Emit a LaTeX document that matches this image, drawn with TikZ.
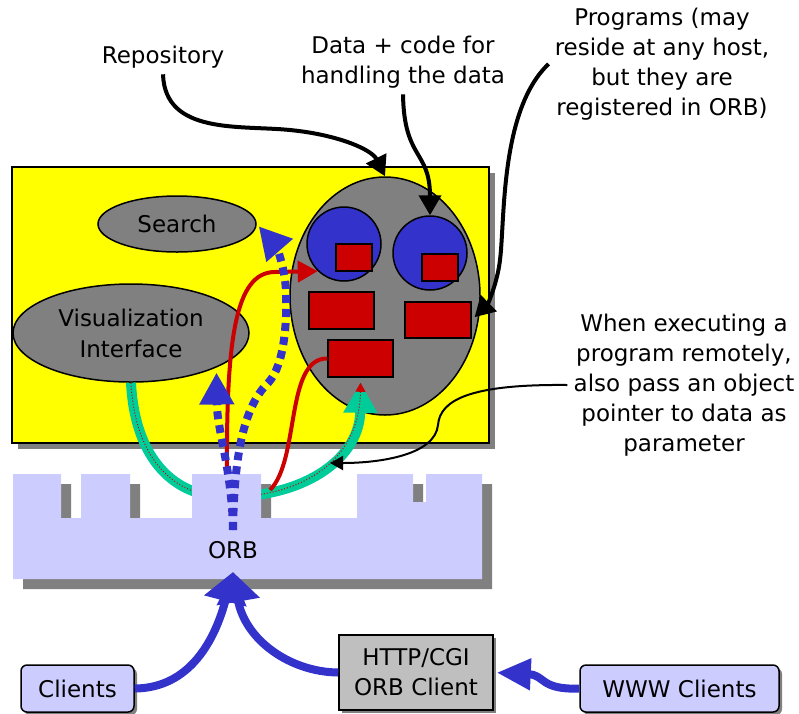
\documentclass[tikz,border=0pt]{standalone}
\usepackage{fontspec}
\setmainfont{DejaVu Sans}
\usetikzlibrary{positioning,shapes.geometric,arrows.meta,shadows}

\definecolor{hostyellow}{HTML}{FFFF00}
\definecolor{storegray}{HTML}{808080}
\definecolor{progblue}{HTML}{3333CC}
\definecolor{progred}{HTML}{CC0000}
\definecolor{orblav}{HTML}{CCCCFF}
\definecolor{callgreen}{HTML}{00CC99}
\definecolor{cgigray}{HTML}{BFBFBF}

\tikzset{
  lbl/.style={align=center, font=\fontsize{23}{30}\selectfont, inner sep=6pt},
  blob/.style={ellipse, draw, line width=1.5pt, fill=storegray, inner sep=0pt, align=center,
    font=\fontsize{23}{31}\selectfont},
  lobe/.style={circle, draw, line width=1.5pt, fill=progblue, minimum size=74pt, inner sep=0pt},
  prog/.style={rectangle, draw, line width=1.5pt, fill=progred, inner sep=0pt},
  client/.style={rectangle, draw, line width=1.5pt, fill=orblav, align=center,
    font=\fontsize{23}{30}\selectfont, general shadow={fill=storegray, shadow xshift=3pt, shadow yshift=-3pt}},
  callout/.style={-{Triangle[length=20pt,width=22pt]}, line width=4pt},
  feed/.style={progblue, line width=8pt, -{Triangle[length=30pt,width=42pt]}},
  invoke/.style={progblue, line width=8pt, dash pattern=on 8pt off 6pt, -{Triangle[length=32pt,width=33pt]}},
  ref/.style={progred, line width=4pt},
}

\begin{document}
\begin{tikzpicture}[x=1pt, y=-1pt]
  \useasboundingbox (0,0) rectangle (799,713);

  % host with repository
  \node[draw, line width=1.5pt, fill=hostyellow, minimum width=477pt, minimum height=276pt,
    general shadow={fill=storegray, shadow xshift=6pt, shadow yshift=-6pt}] (host) at (250.5,305) {};
  \node[blob, minimum width=158pt, minimum height=56pt] (search) at (177,224) {Search};
  \node[blob, minimum width=236pt, minimum height=98pt] (vis) at (131,333) {Visualization\\Interface};
  \node[blob, minimum width=190pt, minimum height=238pt] (store) at (385,296) {};
  \node[lobe] (c1) at (344,244) {};
  \node[lobe] (c2) at (430,253) {};
  \node[prog, minimum width=36pt, minimum height=27pt] (p1) at (354,257.5) {};
  \node[prog, minimum width=36pt, minimum height=27pt] (p2) at (440,267.5) {};
  \node[prog, minimum width=65pt, minimum height=37pt] (p3) at (341.5,310.5) {};
  \node[prog, minimum width=66pt, minimum height=36pt] (p4) at (438,320) {};
  \node[prog, minimum width=65pt, minimum height=37pt] (p5) at (360.5,358.5) {};

  % ORB bus
  \coordinate (orbtip) at (233,572);
  \coordinate (orbfoot) at (233,530);
  \coordinate (redfoot) at (227,478);
  \coordinate (redtoe) at (270,490);
  \coordinate (greenmark) at (330,463);
  \fill[storegray, shift={(10,10)}] (13,474) -- (61,474) -- (61,518) -- (81,518) -- (81,474) -- (130,474)
    -- (130,518) -- (192,518) -- (192,474) -- (261,474) -- (261,518) -- (357,518) -- (357,474)
    -- (413,474) -- (413,502) -- (426,502) -- (426,474) -- (482,474) -- (482,579) -- (13,579) -- cycle;

  \draw[callgreen, line width=10pt, shorten >=5pt, -{Triangle[length=30pt,width=32pt]}]
    (vis.south) .. controls (135,460) and (175,497) .. (226,497)
    .. controls (310,497) and (360,455) .. (p5.south);
  \draw[progred, line width=1pt, dotted, shorten >=5pt, -{Triangle[length=9pt,width=10pt]}]
    (vis.south) .. controls (135,460) and (175,497) .. (226,497)
    .. controls (310,497) and (360,455) .. (p5.south);
  \draw[ref, -{Triangle[length=20pt,width=21pt]}]
    (redfoot) .. controls (226,340) and (235,272) .. (275,272) -- (c1.226);
  \draw[ref] (redtoe) .. controls (300,460) and (285,358) .. (p5.west);

  \fill[orblav] (13,474) -- (61,474) -- (61,518) -- (81,518) -- (81,474) -- (130,474)
    -- (130,518) -- (192,518) -- (192,474) -- (261,474) -- (261,518) -- (357,518) -- (357,474)
    -- (413,474) -- (413,502) -- (426,502) -- (426,474) -- (482,474) -- (482,579) -- (13,579) -- cycle;
  \node[font=\fontsize{23}{30}\selectfont] (orb) at (233,550) {ORB};

  \draw[invoke, shorten >=5pt] (orbfoot) .. controls (232,470) and (217,430) .. (vis.-22);
  \draw[invoke, shorten >=3pt] (orbfoot) .. controls (234,470) and (240,410) .. (268,383)
    .. controls (285,365) and (287,320) .. (286,292)
    .. controls (285,265) and (275,245) .. (search.east);

  % callouts
  \node[lbl] (repolbl) at (163,57) {Repository};
  \node[lbl] (datalbl) at (403,62) {Data + code for\\handling the data};
  \node[lbl] (proglbl) at (662,64) {Programs (may\\reside at any host,\\but they are\\registered in ORB)};
  \node[lbl] (passlbl) at (684,385) {When executing a\\program remotely,\\also pass an object\\pointer to data as\\parameter};

  \draw[callout] (repolbl.south) .. controls (165,135) and (240,125) .. (290,130)
    .. controls (340,135) and (372,150) .. (store.north);
  \draw[callout] (datalbl.south) .. controls (404,160) and (430,150) .. (c2.north);
  \draw[callout, shorten >=4pt] (proglbl.west) .. controls (500,110) and (505,220) .. (500,260)
    .. controls (497,285) and (487,305) .. (p4.east);
  \draw[line width=2pt, -{Triangle[length=13pt,width=14pt]}] (passlbl.west)
    .. controls (470,384) and (440,400) .. (438,425)
    .. controls (435,455) and (380,463) .. (greenmark);

  % clients
  \node[client, rounded corners=6pt, minimum width=113pt, minimum height=47pt] (clients) at (77.5,688.5) {Clients};
  \node[client, fill=cgigray, minimum width=154pt, minimum height=75pt] (cgi) at (416,672.5) {HTTP/CGI\\ORB Client};
  \node[client, rounded corners=6pt, minimum width=199pt, minimum height=47pt] (www) at (679.5,688.5) {WWW Clients};

  \draw[feed] (clients.east) .. controls (190,688) and (215,640) .. (orbtip);
  \draw[feed] (cgi.west) .. controls (290,672) and (245,640) .. (orbtip);
  \draw[progblue, line width=8pt, shorten >=3pt, -{Triangle[length=34pt,width=30pt]}]
    (www.west) .. controls (540,690) and (545,675) .. (cgi.east);
\end{tikzpicture}
\end{document}
